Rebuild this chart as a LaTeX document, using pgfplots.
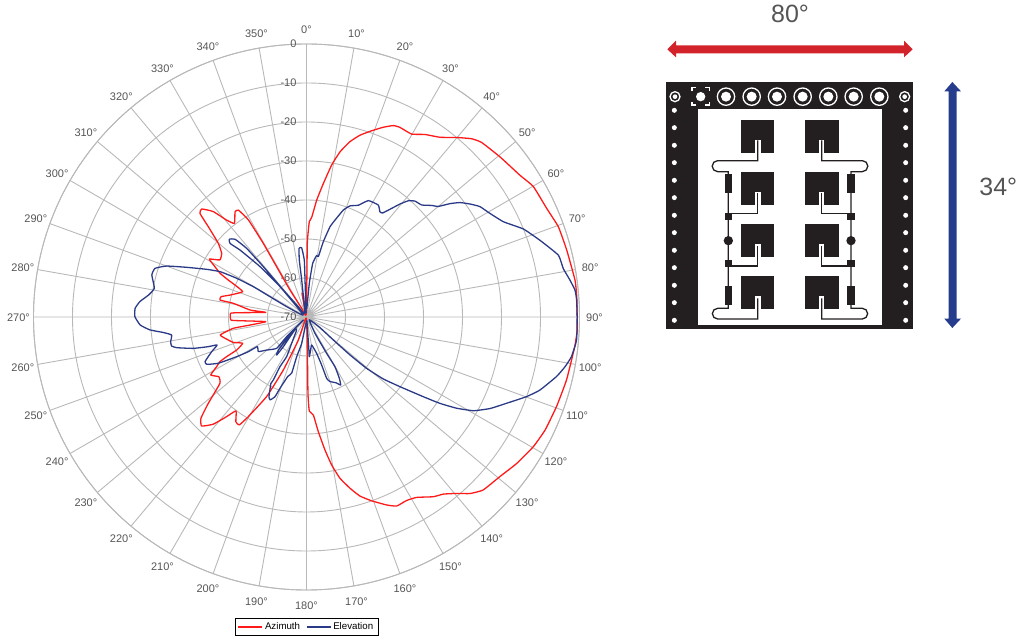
\documentclass[border=0pt]{standalone}
\usepackage{fontspec}
\setmainfont{Liberation Sans}
\usepackage{pgfplots}
\usepackage{pgfplotstable}
\pgfplotsset{compat=1.18}
\usepgfplotslibrary{polar}
\definecolor{gridg}{HTML}{B8B8B8}
\definecolor{labg}{HTML}{555555}
\definecolor{azred}{HTML}{FF1A1A}
\definecolor{elblue}{HTML}{2B3A87}
\definecolor{pcb}{HTML}{231F20}
\pgfplotstableread{
az db
0 -69
0.65 -51.1
1.7 -45.5
3.0 -44.4
5.0 -39.9
7.2 -35.5
9.4 -30.5
11.5 -26.75
13.9 -23.7
16.4 -21.4
19.3 -19.4
22.05 -17.5
24.4 -16.1
26.2 -15.8
29.9 -15.9
33.0 -14.2
36.6 -12.6
39.9 -10
42.8 -7.7
45.1 -6.6
50.4 -5.6
56.4 -4.3
60.1 -2.9
65.7 -2.4
70.3 -1.4
75.6 -1.1
82.2 -0.5
85.7 -0.5
90 -0.6
92.75 -0.5
96.3 -0.8
103.6 -1.4
109.7 -1.9
115.35 -2.3
119.75 -3
124.85 -4.3
129.5 -5.7
134.4 -6.6
137.2 -8.3
139.6 -10.6
142.3 -12.6
144.8 -13.6
148.6 -15.8
151.4 -16.4
154.5 -16.3
156.9 -17.6
160.5 -20
163.4 -22.1
165.75 -24.7
168.3 -27.8
170.35 -31.5
172.1 -35.6
174.1 -40.4
176 -44.8
178.3 -45.9
178.9 -50.4
178.2 -63.25
180 -69.5
206.6 -69.3
199.5 -63.7
203.6 -55.2
206.6 -47.2
210.3 -40.4
211.9 -37.4
214 -37.6
216.9 -39.9
218.7 -37.3
221 -33.6
223.9 -31.2
226.2 -32.5
228.7 -36.5
232.5 -42
235.7 -42.8
238.8 -41.3
241.1 -43.7
242.7 -45
243.6 -47.1
244.7 -50.2
247.6 -52.3
250.9 -50.1
253.6 -49.1
258.2 -47.4
261.2 -51
261.9 -55.4
263.5 -59.5
266.8 -52.9
267.7 -50.6
272.8 -50.5
273.7 -52.9
276.5 -59.5
277.1 -55.4
280.6 -50.9
281.1 -47.4
283.4 -47.5
286 -49.6
291.6 -52.4
294.1 -49.9
295.3 -47.8
296.8 -45.2
298.8 -43.2
300.8 -41
303.4 -43.4
306.9 -42.8
309.9 -40.5
312.6 -35.8
314.2 -31.9
315.85 -31.4
318.5 -33.9
320.5 -37.8
322.4 -39.7
325.8 -37.4
327.5 -37.5
329.1 -41
329.6 -48.1
329.3 -55
328.6 -61.9
330.9 -67.5
335 -69.5
349.2 -63.8
351 -64.3
355 -69.5
}\azdata
\pgfplotstableread{
az db
2 -68
4.8 -61.3
6.6 -56.15
9.4 -54
11.1 -54.2
12.6 -50.2
14.6 -46.1
16.4 -44.1
19 -41
21.4 -39.4
24.9 -38.4
28 -36.2
32.7 -35.9
34.9 -37.1
36.2 -36.95
38.1 -34.6
39.6 -32.4
41.2 -30.4
43.1 -29.3
45.8 -28.8
48.3 -27
50 -25.9
51.7 -23.1
53.3 -20.9
55.4 -19
57.5 -17.3
60.5 -16
64.2 -13.9
67.9 -10
71.8 -7
76.2 -3.5
79.3 -3
82 -1.8
84.3 -0.8
86.4 -0.6
90 -0.6
94.9 -0.5
98.5 -1.3
100.9 -2.5
103.4 -4.1
107.4 -7.3
109.9 -10
113.3 -14.1
116.5 -17.4
119.3 -20.9
121.3 -25
122.9 -29.2
124.3 -33.7
126.7 -40.1
128.9 -44.7
130.5 -49.7
131.1 -55.2
130.6 -60.9
128 -65.7
135 -69
152.5 -65.3
151 -59.3
150.2 -55.3
151.8 -52.2
153.3 -50.5
155.8 -51.5
160 -52.4
161.8 -53.4
162.5 -57.1
164.4 -60.3
169.5 -62.7
172.8 -61.5
175.9 -59.8
175.8 -62.4
175 -68
180 -69
190.4 -63.1
193.9 -59.5
194.8 -55.1
197.5 -54
200.4 -50.5
201.6 -48
203.7 -46.8
205.2 -47.4
208.2 -50.7
207.8 -51.7
208.1 -55.6
206.6 -58.6
209.4 -62.25
217.1 -65.8
223 -65.7
218 -60.4
218.1 -57.6
220.5 -58.9
225.4 -65.9
226 -68.9
225.2 -62.8
223.6 -58.9
230.4 -56.7
234.3 -54.8
238.9 -55.3
239.2 -52.6
240.4 -49.4
242.3 -44.5
244.6 -41.7
246.3 -41.6
249.9 -44.1
252.6 -46
253.2 -43.7
254.5 -39.9
256.7 -35.8
257.9 -34.6
259.7 -34.6
262.4 -35.1
263.8 -33.1
265.3 -29.7
267.25 -27.3
270.1 -26
272.9 -26
275.3 -27.1
277.9 -29.1
280.7 -30.3
285.2 -28.9
287.8 -29.2
290 -31.8
292.5 -36.7
295.5 -41.6
297.7 -45
299 -49.5
299.7 -54.3
299.1 -59.3
297.5 -64.3
302 -69
318.9 -59.7
317.3 -52.4
315.2 -45.8
313.9 -42.8
315.2 -41.9
317.4 -42.9
318.9 -46.6
319.4 -53
319.4 -60.9
321.7 -66.6
335 -69
352.6 -60.4
352.8 -55.3
353.8 -52.3
356 -52.2
357.8 -55.4
357.7 -60.5
355 -69
}\eldata
\begin{document}
\begin{tikzpicture}[x=1pt,y=1pt]
\useasboundingbox (0,0) rectangle (1019,636);
\begin{polaraxis}[
  at={(306.5pt,319pt)}, anchor=center,
  scale only axis, width=546pt, height=546pt,
  xmin=90, xmax=450, ymin=0, ymax=70,
  clip=false,
  xtick={90,100,...,440},
  xticklabels={0°,350°,340°,330°,320°,310°,300°,290°,280°,270°,260°,250°,240°,230°,220°,210°,200°,190°,180°,170°,160°,150°,140°,130°,120°,110°,100°,90°,80°,70°,60°,50°,40°,30°,20°,10°},
  ytick={0,10,...,70},
  yticklabels={-70,-60,-50,-40,-30,-20,-10,0},
  major tick length=0pt,
  grid=both,
  major grid style={draw=gridg,line width=0.9pt},
  axis line style={draw=gridg,line width=0.9pt},
  tick label style={font=\fontsize{11}{13}\selectfont,text=labg},
  xticklabel style={anchor=center,xshift={15*cos(\tick)},yshift={15*sin(\tick)-0.7}},
  yticklabel style={anchor=east,xshift=-6.5pt},
  legend style={at={(0.5,-0.051)},anchor=north,legend columns=2,draw=black,line width=0.5pt,
    font=\fontsize{9.7}{11}\selectfont,inner xsep=3pt,inner ysep=2.5pt,
    /tikz/every even column/.append style={column sep=4pt}},
  legend cell align=left,
  legend image post style={xscale=1.4},
]
\addplot[draw=azred,line width=1.3pt,line join=round,smooth,tension=0.25] table[x expr={450-\thisrow{az}},y expr={\thisrow{db}+70}] {\azdata};
\addlegendentry{Azimuth}
\addplot[draw=elblue,line width=1.3pt,line join=round,smooth,tension=0.25] table[x expr={450-\thisrow{az}},y expr={\thisrow{db}+70}] {\eldata};
\addlegendentry{Elevation}
\end{polaraxis}
% side illustration: reference zoom coordinates
\begin{scope}[shift={(650,636)},x=0.33333pt,y=-0.33333pt]
\definecolor{arrred}{HTML}{D2232A}
\definecolor{arrblue}{HTML}{253D8C}
\fill[arrred] (52,148)--(78,122)--(78,136)--(762,136)--(762,122)--(788,148)--(762,172)--(762,160)--(78,160)--(78,172)--cycle;
\fill[arrblue] (907,246)--(933,274)--(920,274)--(920,956)--(933,956)--(907,984)--(883,956)--(896,956)--(896,274)--(883,274)--cycle;
\node[text=labg,font=\fontsize{25}{28}\selectfont] at (420,42) {80°};
\node[text=labg,font=\fontsize{25}{28}\selectfont] at (1045,561) {34°};
\fill[pcb] (48,246) rectangle (788,986);
\fill[white] (144,327) rectangle (696,975);
\foreach \yy in {331,383,436,488,541,593,646,698,751,803,856,908,961}{
  \fill[white] (73,\yy) circle[radius=7.5];
  \fill[white] (767,\yy) circle[radius=7.5];
}
\foreach \xx in {75,764}{
  \draw[white,line width=1.3pt] (\xx,290) circle[radius=15];
  \fill[white] (\xx,290) circle[radius=7];
}
\foreach \xx in {228,305,381,458,535,611,688}{
  \draw[white,line width=1.3pt] (\xx,290) circle[radius=26];
  \fill[white] (\xx,290) circle[radius=15];
}
\fill[white] (152,290) circle[radius=14];
\draw[white,line width=1.2pt] (126,274)--(126,262)--(138,262) (166,262)--(179,262)--(179,274) (179,306)--(179,315)--(166,315) (138,315)--(126,315)--(126,306);
\foreach \yy in {360,516,672,828}{
  \fill[pcb] (273,\yy) rectangle (372,\yy+99);
  \fill[pcb] (465,\yy) rectangle (567,\yy+99);
  \fill[white] (316,\yy+61) rectangle (332,\yy+99);
  \fill[white] (507,\yy+61) rectangle (523,\yy+99);
}
\begin{scope}[draw=pcb,line width=1.3pt]
\draw (323,421)--(323,482)--(203,482) arc[start angle=270,end angle=90,radius=16.5]--(235,515)--(235,925)--(203,925) arc[start angle=270,end angle=90,radius=16]--(323,957)--(323,895);
\draw (515,421)--(515,482)--(637,482) arc[start angle=270,end angle=450,radius=16.5]--(603,515)--(603,925)--(637,925) arc[start angle=270,end angle=450,radius=16]--(515,957)--(515,895);
\draw (235,640)--(323,640)--(323,580);
\draw (235,798)--(323,798)--(323,737);
\draw (603,640)--(515,640)--(515,580);
\draw (603,798)--(515,798)--(515,737);
\end{scope}
\foreach \xx in {235,603}{
  \fill[pcb] (\xx-11,522) rectangle (\xx+11,580);
  \fill[pcb] (\xx-11,858) rectangle (\xx+11,915);
  \fill[pcb] (\xx-11,639) rectangle (\xx+11,661);
  \fill[pcb] (\xx-11,779) rectangle (\xx+11,801);
  \fill[pcb] (\xx,722) circle[radius=14];
}
\end{scope}
\end{tikzpicture}
\end{document}
